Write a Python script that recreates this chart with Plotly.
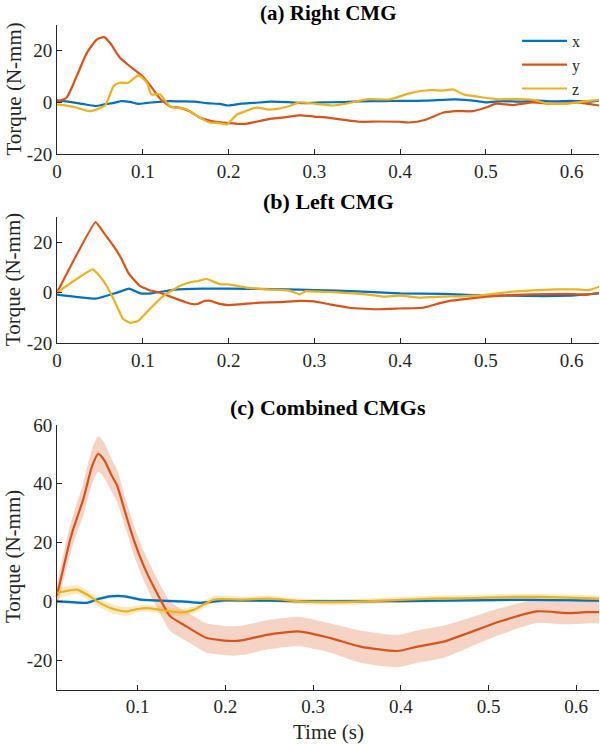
import plotly.graph_objects as go

# ---------------- data ----------------
# Panel (a) Right CMG
a_x_t = [0, 0.015, 0.03, 0.045, 0.055, 0.065, 0.075, 0.085, 0.095, 0.105, 0.115, 0.13, 0.145, 0.16, 0.175,
         0.19, 0.2, 0.215, 0.23, 0.25, 0.27, 0.29, 0.31, 0.33, 0.35, 0.38, 0.4, 0.43, 0.465, 0.49, 0.5,
         0.52, 0.54, 0.56, 0.58, 0.6, 0.62, 0.632]
a_x_v = [0.8, 0.2, -0.6, -1.4, -0.8, -0.3, 0.5, 0.2, -0.6, -0.2, 0.1, 0.5, 0.4, 0.3, -0.3,
         -0.6, -1.2, -0.5, -0.2, 0.3, 0.1, -0.3, 0, 0.1, 0.4, 0.5, 0.6, 0.7, 1.2, 0.5, 0,
         0.5, 0.3, 0.7, 0.4, 0.6, 0.3, 0.7]
a_y_t = [0, 0.011, 0.023, 0.035, 0.047, 0.055, 0.062, 0.073, 0.085, 0.1, 0.11, 0.12, 0.133, 0.143, 0.155,
         0.167, 0.18, 0.2, 0.22, 0.235, 0.25, 0.265, 0.283, 0.3, 0.318, 0.335, 0.353, 0.375, 0.4, 0.41,
         0.43, 0.45, 0.466, 0.485, 0.5, 0.512, 0.532, 0.555, 0.575, 0.594, 0.606, 0.62, 0.632]
a_y_v = [0.3, 1.8, 10.2, 19.3, 24.5, 25.3, 23, 17.5, 14, 10, 6, 1.5, -1.8, -2, -3.5,
         -6, -7.2, -8, -8.3, -7.3, -6.3, -5.8, -5, -5.5, -6, -6.8, -7.5, -7.4, -7.5, -7.8,
         -6.7, -4, -3.4, -3.4, -2, -0.5, -1.0, 0, -0.5, -0.4, 0, -0.6, -1.2]
a_z_t = [0, 0.02, 0.038, 0.048, 0.056, 0.066, 0.073, 0.083, 0.095, 0.105, 0.11, 0.12, 0.132, 0.151, 0.167,
         0.178, 0.19, 0.198, 0.21, 0.22, 0.233, 0.248, 0.268, 0.283, 0.3, 0.322, 0.34, 0.361, 0.388, 0.411,
         0.435, 0.45, 0.462, 0.474, 0.493, 0.516, 0.535, 0.555, 0.571, 0.594, 0.618, 0.632]
a_z_v = [-0.8, -1.8, -3.4, -2.5, -1.2, 6.3, 7.6, 7.6, 10.5, 7.6, 3.1, 3.2, -1.6, -2.7, -6,
         -7.8, -8, -8.5, -4.7, -3.4, -2, -2.8, -1.7, 0, -0.5, -1.2, -0.3, 1.2, 1.2, 3.5,
         4.8, 4.6, 5.0, 3.1, 2.1, 1.2, 1.3, 1.0, -0.4, -0.5, 0.5, 1.0]

# Panel (b) Left CMG
b_x_t = [0, 0.045, 0.07, 0.084, 0.097, 0.11, 0.137, 0.17, 0.2, 0.25, 0.283, 0.3, 0.35, 0.4, 0.45,
         0.493, 0.53, 0.567, 0.6, 0.633]
b_x_v = [-0.8, -2.4, 0, 1.6, -0.3, -0.3, 1.2, 1.6, 1.6, 1.4, 1.2, 1.0, 0.5, -0.3, -0.5,
         -1.1, -1.2, -1.4, -1.2, -0.3]
b_y_t = [0, 0.045, 0.055, 0.066, 0.075, 0.083, 0.09, 0.097, 0.108, 0.12, 0.13, 0.14, 0.15, 0.159, 0.165,
         0.172, 0.178, 0.19, 0.2, 0.215, 0.237, 0.26, 0.283, 0.3, 0.32, 0.341, 0.36, 0.376, 0.4, 0.427,
         0.44, 0.458, 0.48, 0.501, 0.53, 0.555, 0.594, 0.618, 0.633]
b_y_v = [0, 28, 23.5, 18.4, 13.5, 7.9, 5, 2.6, 0.9, 0, -1.3, -2.6, -3.8, -4.6, -4.4,
         -3.3, -3.2, -4.5, -5, -4.6, -4, -3.8, -3.3, -3.5, -4.8, -6, -6.4, -6.6, -6.3, -6,
         -4.8, -3.3, -2.4, -1.6, -1.0, -0.7, -0.5, -0.8, 0]
b_z_t = [0, 0.0415, 0.05, 0.058, 0.068, 0.077, 0.086, 0.095, 0.108, 0.124, 0.143, 0.157, 0.165, 0.174, 0.19,
         0.2, 0.221, 0.245, 0.27, 0.283, 0.29, 0.31, 0.33, 0.36, 0.38, 0.4, 0.423, 0.45, 0.47, 0.493,
         0.51, 0.528, 0.55, 0.583, 0.606, 0.62, 0.633]
b_z_v = [0, 9.2, 6.5, 2.6, -4, -10.5, -12, -11.2, -6.6, -1.3, 2.6, 4.2, 4.6, 5.5, 3.3,
         3.3, 2, 1.3, 0.9, -0.7, 0.6, 0.3, 0.0, -0.7, -1.6, -1.2, -2.0, -1.6, -1.5, -1.1,
         -0.5, 0.3, 0.8, 1.3, 1.3, 1.0, 2.4]

# Panel (c) Combined CMGs: time, mean, half-width of shaded band
c_x_t = [0.008, 0.025, 0.042, 0.055, 0.069, 0.085, 0.103, 0.12, 0.15, 0.1715, 0.2, 0.25, 0.3, 0.35, 0.4,
         0.45, 0.5, 0.55, 0.6, 0.626]
c_x_v = [0, -0.3, -0.5, 0.8, 1.7, 1.7, 0.6, 0.3, 0, -0.5, 0.3, 0.2, 0, 0, 0.1,
         0.2, 0.4, 0.5, 0.3, 0.2]
c_x_s = [0.6, 0.5, 0.5, 0.5, 0.5, 0.5, 0.5, 0.5, 0.5, 0.5, 0.5, 0.5, 0.5, 0.5, 0.5,
         0.5, 0.5, 0.5, 0.5, 0.5]
c_y_t = [0.008, 0.014, 0.023, 0.027, 0.038, 0.048, 0.055, 0.062, 0.07, 0.0765, 0.086, 0.096, 0.107, 0.118, 0.13,
         0.137, 0.156, 0.179, 0.209, 0.22, 0.2475, 0.278, 0.2855, 0.32, 0.354, 0.396, 0.419, 0.449, 0.4767, 0.5136,
         0.555, 0.5896, 0.612, 0.626]
c_y_v = [2, 9.7, 21, 25, 34.8, 46, 50.2, 48, 43, 39.4, 30, 20.5, 12, 5.1, -1.7,
         -5.1, -8.6, -12.5, -13.5, -13.2, -11.4, -10.3, -10.3, -12.5, -15.4, -16.9, -15.4, -13.7, -10.8, -6.8,
         -3.4, -4, -3.7, -3.7]
c_y_s = [4, 4.5, 5, 5, 5.5, 6, 6, 6, 5.5, 5.5, 5, 5, 5, 5, 5,
         5, 5, 5, 5, 5, 5, 5, 5, 5, 5.5, 5.5, 5.5, 5.5, 5, 4.5,
         4, 3.8, 3.8, 3.8]
c_z_t = [0.008, 0.02, 0.031, 0.042, 0.0575, 0.069, 0.08, 0.088, 0.1, 0.111, 0.126, 0.149, 0.164, 0.187, 0.22,
         0.25, 0.285, 0.32, 0.36, 0.4, 0.437, 0.49, 0.53, 0.56, 0.6, 0.626]
c_z_v = [2.9, 3.6, 4, 2.3, -0.6, -2.3, -3.2, -3.4, -2.6, -2.3, -2.9, -3.8, -2.9, 0.6, 0.6,
         0.9, 0, -0.3, 0, 0.5, 0.9, 1.2, 1.5, 1.5, 1.2, 0.9]
c_z_s = [2, 1.5, 1.5, 1.5, 1.5, 1.5, 1.5, 1.5, 1.2, 1.2, 1.2, 1.2, 1.2, 1.2, 1,
         1, 1, 1, 1, 1, 1, 1, 1, 1, 1, 1]

x_tick_vals_ab = [0, 0.1, 0.2, 0.3, 0.4, 0.5, 0.6]
x_tick_text_ab = ["0", "0.1", "0.2", "0.3", "0.4", "0.5", "0.6"]
x_tick_vals_c = [0.1, 0.2, 0.3, 0.4, 0.5, 0.6]
x_tick_text_c = ["0.1", "0.2", "0.3", "0.4", "0.5", "0.6"]
y_tick_vals_ab = [-20, 0, 20]
y_tick_text_ab = ["-20", "0", "20"]
y_tick_vals_c = [-20, 0, 20, 40, 60]
y_tick_text_c = ["-20", "0", "20", "40", "60"]

titles = ["(a) Right CMG", "(b) Left CMG", "(c) Combined CMGs"]
series_names = ["x", "y", "z"]

# ---------------- style ----------------
W, H = 600, 744
BLUE, RED, YEL = "#0072BD", "#D95319", "#EDB120"
BANDS = {"x": "rgba(0,114,189,0.22)", "y": "rgba(217,83,25,0.25)", "z": "rgba(237,177,32,0.28)"}
COLORS = {"x": BLUE, "y": RED, "z": YEL}
FONT = "Liberation Serif"
AX = "#262626"

def py(pix):  # reference pixel-from-top -> paper y
    return 1 - pix / H

def px(pix):
    return pix / W

xdom = [px(57), px(599)]
ydoms = [[py(154), py(25)], [py(343), py(217)], [py(689.5), py(425)]]

fig = go.Figure()

panel_a = {"x": (a_x_t, a_x_v), "y": (a_y_t, a_y_v), "z": (a_z_t, a_z_v)}
panel_b = {"x": (b_x_t, b_x_v), "y": (b_y_t, b_y_v), "z": (b_z_t, b_z_v)}
panel_c = {"x": (c_x_t, c_x_v, c_x_s), "y": (c_y_t, c_y_v, c_y_s), "z": (c_z_t, c_z_v, c_z_s)}

for name in series_names:
    t, v = panel_a[name]
    fig.add_trace(go.Scatter(x=t, y=v, mode="lines", name=name, xaxis="x", yaxis="y",
                             line=dict(color=COLORS[name], width=2.2, shape="spline", smoothing=0.6),
                             showlegend=True))
for name in series_names:
    t, v = panel_b[name]
    fig.add_trace(go.Scatter(x=t, y=v, mode="lines", name=name, xaxis="x2", yaxis="y2",
                             line=dict(color=COLORS[name], width=2.2, shape="spline", smoothing=0.3),
                             showlegend=False))
# bands first, then lines
for name in series_names:
    t, v, s = panel_c[name]
    up = [a + b for a, b in zip(v, s)]
    lo = [a - b for a, b in zip(v, s)]
    fig.add_trace(go.Scatter(x=t, y=up, mode="lines", xaxis="x3", yaxis="y3",
                             line=dict(width=0, shape="spline", smoothing=0.6),
                             hoverinfo="skip", showlegend=False))
    fig.add_trace(go.Scatter(x=t, y=lo, mode="lines", xaxis="x3", yaxis="y3", fill="tonexty",
                             fillcolor=BANDS[name],
                             line=dict(width=0, shape="spline", smoothing=0.6),
                             hoverinfo="skip", showlegend=False))
for name in series_names:
    t, v, s = panel_c[name]
    fig.add_trace(go.Scatter(x=t, y=v, mode="lines", name=name, xaxis="x3", yaxis="y3",
                             line=dict(color=COLORS[name], width=2.2, shape="spline", smoothing=0.6),
                             showlegend=False))

axis_common = dict(showline=True, linecolor=AX, linewidth=1, ticks="inside", ticklen=5, tickwidth=1,
                   tickcolor=AX, showgrid=False, zeroline=False, mirror=False, automargin=False,
                   tickfont=dict(family=FONT, size=19, color=AX))

fig.update_layout(
    template="none",
    width=W, height=H, margin=dict(l=0, r=0, t=0, b=0, pad=0, autoexpand=False),
    paper_bgcolor="white", plot_bgcolor="white",
    font=dict(family=FONT, color=AX),
    xaxis=dict(domain=xdom, anchor="y", range=[0, 0.632], tickvals=x_tick_vals_ab,
               ticktext=x_tick_text_ab, **axis_common),
    yaxis=dict(domain=ydoms[0], anchor="x", range=[-20, 30], tickvals=y_tick_vals_ab,
               ticktext=y_tick_text_ab, **axis_common),
    xaxis2=dict(domain=xdom, anchor="y2", range=[0, 0.632], tickvals=x_tick_vals_ab,
                ticktext=x_tick_text_ab, **axis_common),
    yaxis2=dict(domain=ydoms[1], anchor="x2", range=[-20, 30], tickvals=y_tick_vals_ab,
                ticktext=y_tick_text_ab, **axis_common),
    xaxis3=dict(domain=xdom, anchor="y3", range=[0.008, 0.626], tickvals=x_tick_vals_c,
                ticktext=x_tick_text_c, **axis_common),
    yaxis3=dict(domain=ydoms[2], anchor="x3", range=[-30, 60], tickvals=y_tick_vals_c,
                ticktext=y_tick_text_c, **axis_common),
    legend=dict(x=px(517), y=py(24), xanchor="left", yanchor="top", bgcolor="rgba(0,0,0,0)",
                font=dict(family=FONT, size=16, color=AX), itemwidth=45, tracegroupgap=0,
                traceorder="normal", borderwidth=0),
    showlegend=True,
)

# panel titles: first one hangs from the top edge so it is never clipped
fig.add_annotation(text="<b>" + titles[0] + "</b>", xref="paper", yref="paper", x=px(328), y=py(0),
                   xanchor="center", yanchor="top", showarrow=False, borderpad=0,
                   font=dict(family=FONT, size=21, color="black"))
for ttl, ty in zip(titles[1:], [201, 408]):
    fig.add_annotation(text="<b>" + ttl + "</b>", xref="paper", yref="paper", x=px(328), y=py(ty),
                       xanchor="center", yanchor="middle", showarrow=False,
                       font=dict(family=FONT, size=22, color="black"))

ylab_y = [89.5, 280, 557]
for ly in ylab_y:
    fig.add_annotation(text="Torque (N-mm)", xref="paper", yref="paper", x=px(13), y=py(ly),
                       xanchor="center", yanchor="middle", textangle=-90, showarrow=False,
                       font=dict(family=FONT, size=21, color=AX))

fig.add_annotation(text="Time (s)", xref="paper", yref="paper", x=px(328), y=py(732),
                   xanchor="center", yanchor="middle", showarrow=False,
                   font=dict(family=FONT, size=21, color=AX))

# remove the page's default 8 px body margin so the 600x744 figure fills the window
fig.write_html("out.html", config={"displayModeBar": False},
               post_script="document.body.style.margin='0px';")
